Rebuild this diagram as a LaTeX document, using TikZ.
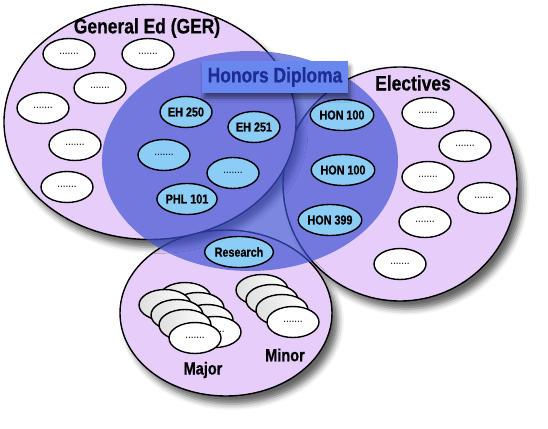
\documentclass[tikz,border=0pt]{standalone}
\usepackage{fontspec}
\setsansfont{Liberation Sans}[FakeStretch=0.83, BoldFeatures={FakeBold=0.5}]
\usepackage{tikz}
\usetikzlibrary{positioning}
\usetikzlibrary{shapes,shadows.blur}
\definecolor{lilac}{RGB}{230,205,250}
\definecolor{hblue}{RGB}{60,80,210}
\definecolor{coursebl}{RGB}{140,205,245}
\definecolor{boxblue}{RGB}{105,135,240}
\definecolor{boxtext}{RGB}{30,45,150}
\tikzstyle{area} = [ellipse, draw, line width=1.4pt, fill=lilac, inner sep=0pt,
    blur shadow={shadow xshift=6pt, shadow yshift=-8pt, shadow blur radius=6pt, shadow opacity=60}]
\tikzstyle{course} = [ellipse, draw, line width=1.4pt, fill=white, minimum width=52pt,
    minimum height=31pt, inner sep=0pt, font=\fontsize{12}{12}\sffamily]
\tikzstyle{hcourse} = [course, fill=coursebl, font=\fontsize{13}{13}\sffamily\bfseries]
\tikzstyle{stack} = [course, left color=gray!25, middle color=white, right color=white]
\tikzstyle{title} = [font=\fontsize{21}{21}\sffamily\bfseries]
\tikzstyle{hbox} = [rectangle, fill=boxblue, text=boxtext, minimum width=146pt, minimum height=32pt,
    title, blur shadow={shadow xshift=2pt, shadow yshift=-5pt, shadow blur radius=4pt, shadow opacity=50}]

\begin{document}
\begin{tikzpicture}[x=1pt, y=-1pt]
        \useasboundingbox (0,0) rectangle (548,428);
        % areas
        \node [area, minimum width=234pt, minimum height=234pt] (elec) at (400,184) {};
        \node [area, minimum width=212pt, minimum height=166pt] (major) at (226,313) {};
        \node [area, minimum width=292pt, minimum height=235pt] (ger) at (150,122) {};
        % titles
        \node [title] (gerlabel) at (147,28) {General Ed (GER)};
        \node [title] (eleclabel) at (413,83) {Electives};
        \node [title, font=\fontsize{17.5}{17.5}\sffamily\bfseries] (majorlabel) at (203,370) {Major};
        \node [title, font=\fontsize{17.5}{17.5}\sffamily\bfseries] (minorlabel) at (285,355) {Minor};
        % general ed courses
        \node [course] (g1) at (69,54) {.......};
        \node [course] (g2) at (148,54) {.......};
        \node [course] (g3) at (100,88) {.......};
        \node [course] (g4) at (43,108) {.......};
        \node [course] (g5) at (75,145) {.......};
        \node [course] (g6) at (67,187) {.......};
        % electives
        \node [course] (e1) at (428,113) {.......};
        \node [course] (e2) at (465,146) {.......};
        \node [course] (e3) at (428,177) {.......};
        \node [course] (e4) at (484,198) {.......};
        \node [course] (e5) at (425,222) {.......};
        \node [course] (e6) at (400,264) {.......};
        % major stack
        \node [stack] (b1) at (185,298) {};
        \node [stack] (b2) at (198,308) {};
        \node [stack] (b3) at (207,320) {};
        \node [course] (b4) at (215,332) {.......};
        \node [stack] (a1) at (165,305) {};
        \node [stack] (a2) at (177,315) {};
        \node [stack] (a3) at (185,325) {};
        \node [course] (a4) at (195,338) {.......};
        % minor stack
        \node [stack] (m1) at (262,290) {};
        \node [stack] (m2) at (272,300) {};
        \node [stack] (m3) at (282,310) {};
        \node [course] (m4) at (293,322) {.......};
        % honors
        \node [ellipse, fill=hblue, fill opacity=0.68, inner sep=0pt,
            minimum width=296pt, minimum height=220pt] (honors) at (250,161) {};
        \node [hcourse] (eh250) at (186,112) {EH 250};
        \node [hcourse] (eh251) at (254,127) {EH 251};
        \node [hcourse, font=\fontsize{12}{12}\sffamily] (h1) at (164,155) {.......};
        \node [hcourse, font=\fontsize{12}{12}\sffamily] (h2) at (233,173) {.......};
        \node [hcourse] (phl) at (187,199) {PHL 101};
        \node [hcourse, minimum width=54pt] (hon1) at (342,115) {HON 100};
        \node [hcourse, minimum width=54pt] (hon2) at (343,170) {HON 100};
        \node [hcourse, minimum width=56pt] (hon3) at (330,220) {HON 399};
        \node [hcourse, minimum width=60pt] (research) at (239,252) {Research};
        \node [hbox] (honlabel) at (275,77) {Honors Diploma};
    \end{tikzpicture}
\end{document}
